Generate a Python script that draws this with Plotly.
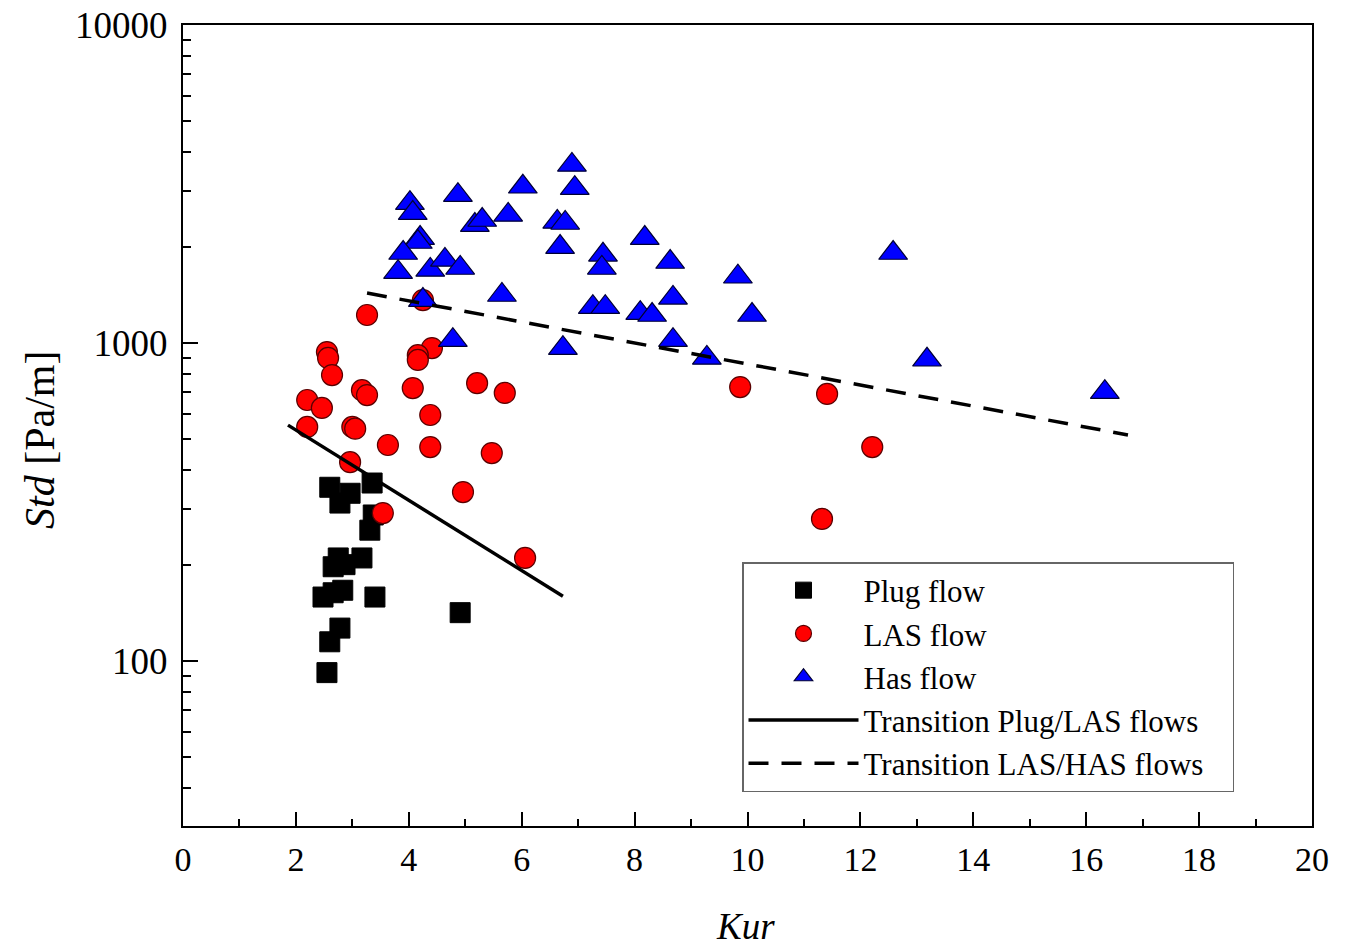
import plotly.graph_objects as go

# Plug flow (black squares)
plug_kur = [2.60, 2.96, 2.78, 3.35, 3.37, 3.31, 2.75, 3.17, 2.66, 2.87, 2.48, 2.83, 2.66, 3.40, 4.91, 2.78, 2.60, 2.55]
plug_std = [352, 337, 314, 363, 288, 258, 211, 211, 198, 201, 159, 167, 164, 159, 142, 127, 115, 92]

# LAS flow (red circles)
las_kur = [3.26, 2.55, 2.57, 2.64, 4.41, 4.16, 4.16, 3.17, 3.26, 4.07, 5.21, 5.70, 2.20, 2.46, 4.38,
           2.20, 3.00, 3.05, 3.63, 4.38, 5.47, 2.96, 4.96, 3.54, 6.06, 4.25, 9.87, 11.41, 12.21, 11.32]
las_std = [1225, 937, 898, 793, 964, 916, 885, 711, 686, 722, 748, 697, 662, 625, 594,
           545, 545, 538, 478, 471, 451, 422, 340, 292, 211, 1365, 727, 692, 471, 280]

# HAS flow (blue triangles)
has_kur = [4.02, 4.07, 4.87, 6.02, 6.89, 6.94, 5.17, 5.30, 5.76, 6.63, 6.77, 6.68, 4.20, 4.16, 3.90,
           3.81, 4.38, 4.64, 4.91, 7.44, 7.42, 5.65, 4.25, 7.26, 7.48, 4.78, 6.73, 8.18, 8.63, 8.68,
           8.10, 8.31, 8.68, 9.28, 9.83, 10.08, 12.58, 13.18, 16.33]
has_std = [2754, 2563, 2918, 3100, 3631, 3070, 2349, 2437, 2528, 2404, 2385, 2004, 2138, 2078, 1919,
           1671, 1698, 1825, 1722, 1894, 1722, 1416, 1365, 1297, 1297, 1021, 964, 2138, 1798, 1387,
           1242, 1225, 1021, 898, 1616, 1225, 1919, 886, 701]

# Transition lines
plug_las_kur = [1.86, 6.73]
plug_las_std = [552, 160]
las_has_kur = [3.26, 16.74]
las_has_std = [1436, 514]

FONT = "Liberation Serif"
PAD = "\u00a0\u00a0\u00a0"

W, H = 1346, 950
ML, MR, MT, MB = 183, 34, 25, 124
plot_w = W - ML - MR
plot_h = H - MT - MB
def px_x(px):
    return (px - ML) / plot_w
def px_y(py):
    return (H - MB - py) / plot_h

fig = go.Figure()
fig.add_trace(go.Scatter(x=plug_kur, y=plug_std, mode="markers", name="Plug flow",
                         marker=dict(symbol="square", size=20, color="black",
                                     line=dict(color="black", width=1))))
fig.add_trace(go.Scatter(x=las_kur, y=las_std, mode="markers", name="LAS flow",
                         marker=dict(symbol="circle", size=21, color="#ff0000",
                                     line=dict(color="#5a0000", width=1.2))))
fig.add_trace(go.Scatter(x=has_kur, y=has_std, mode="markers", name="Has flow",
                         marker=dict(symbol="triangle-up", size=25, color="#0000ff",
                                     line=dict(color="#000033", width=1.2))))
fig.add_trace(go.Scatter(x=plug_las_kur, y=plug_las_std, mode="lines", name="Transition Plug/LAS flows" + PAD,
                         line=dict(color="black", width=3.5)))
fig.add_trace(go.Scatter(x=las_has_kur, y=las_has_std, mode="lines", name="Transition LAS/HAS flows" + PAD,
                         line=dict(color="black", width=3.5, dash="20px,13px")))

fig.update_layout(
    width=W, height=H,
    margin=dict(l=ML, r=MR, t=MT, b=MB, autoexpand=False),
    paper_bgcolor="white", plot_bgcolor="white",
    font=dict(family=FONT, color="black", size=30),
    showlegend=True,
    legend=dict(x=px_x(742), y=px_y(562), xanchor="left", yanchor="top",
                bgcolor="white", bordercolor="#666666", borderwidth=1.5,
                font=dict(family=FONT, size=31, color="black"),
                itemwidth=110, tracegroupgap=0),
    annotations=[
        dict(text="<i>Kur</i>", x=px_x(745), y=px_y(926), xref="paper", yref="paper",
             xanchor="center", yanchor="middle", showarrow=False,
             font=dict(family=FONT, size=37)),
        dict(text="<i>Std</i> [Pa/m]", x=px_x(40), y=px_y(440), xref="paper", yref="paper",
             xanchor="center", yanchor="middle", showarrow=False, textangle=-90,
             font=dict(family=FONT, size=42)),
    ],
)

fig.update_xaxes(
    range=[0, 20], dtick=2, tick0=0, automargin=False,
    showline=True, linecolor="black", linewidth=2, mirror=True,
    ticks="inside", ticklen=14, tickwidth=1.5, tickcolor="black",
    minor=dict(ticks="inside", dtick=1, ticklen=7, tickwidth=1.5, tickcolor="black", showgrid=False),
    showgrid=False, zeroline=False, ticklabelstandoff=2,
    tickfont=dict(family=FONT, size=34),
)
fig.update_yaxes(
    type="log", range=[1.4815, 4], dtick=1, automargin=False,
    showline=True, linecolor="black", linewidth=2, mirror=True,
    ticks="inside", ticklen=15, tickwidth=1.5, tickcolor="black",
    minor=dict(ticks="inside", dtick="D1", ticklen=8, tickwidth=1.5, tickcolor="black", showgrid=False),
    showgrid=False, zeroline=False, ticklabelstandoff=6, ticklabeloverflow="allow",
    tickfont=dict(family=FONT, size=37),
    tickformat="d",
)

fig.write_html("out.html", config={"displayModeBar": False},
               post_script="document.body.style.margin='0';")
